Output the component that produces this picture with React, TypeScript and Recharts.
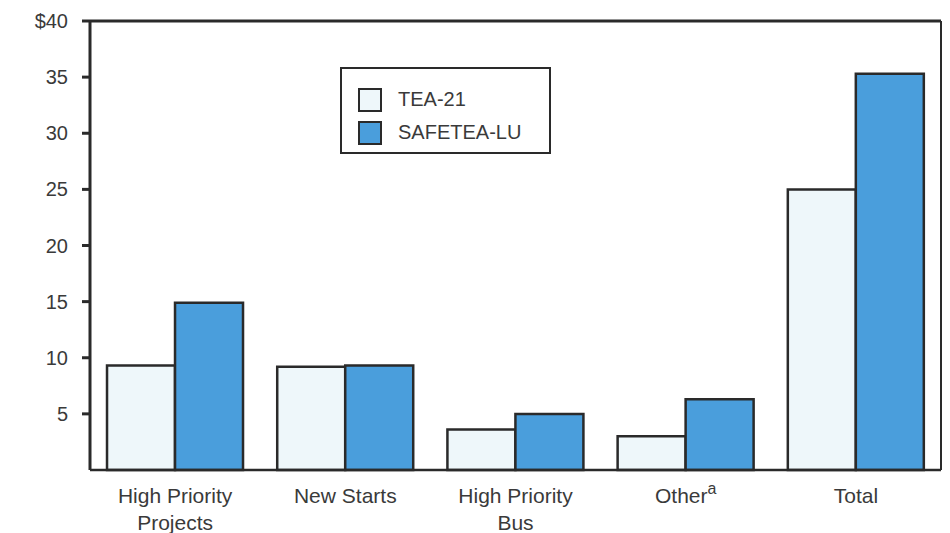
import React from "react";
import { BarChart, Bar, XAxis, YAxis, ReferenceLine } from "recharts";

const categories = ["High Priority\nProjects", "New Starts", "High Priority\nBus", "Other", "Total"];
const footnotes = ["", "", "", "a", ""];
const tea21 = [9.3, 9.2, 3.6, 3.0, 25.0];
const safetea = [14.9, 9.3, 5.0, 6.3, 35.3];
const yTicks = [5, 10, 15, 20, 25, 30, 35, 40];
const seriesNames = ["TEA-21", "SAFETEA-LU"];

const data = categories.map((c, i) => ({
  name: c,
  note: footnotes[i],
  tea: tea21[i],
  safe: safetea[i],
}));

const FONT = "'Liberation Sans', Arial, Helvetica, sans-serif";
const TEXT = "#3a3a3a";
const LINE = "#2a2a2a";
const LIGHT = "#eef7fa";
const BLUE = "#4a9edc";

const XTick = (props: any) => {
  const { x, y, payload, index } = props;
  const lines = String(payload.value).split("\n");
  const note = footnotes[index] || "";
  return (
    <g transform={`translate(${x},${y})`}>
      <text textAnchor="middle" fill={TEXT} fontFamily={FONT} fontSize={21}>
        {lines.map((l, i) => (
          <tspan key={i} x={0} y={i * 27 + 25}>
            {l}
            {note && i === lines.length - 1 ? (
              <tspan fontSize={16} dy={-9}>{note}</tspan>
            ) : null}
          </tspan>
        ))}
      </text>
    </g>
  );
};

const YTick = (props: any) => {
  const { x, y, payload } = props;
  const label = payload.value === 40 ? "$40" : String(payload.value);
  return (
    <text x={x - 12} y={y + 7} textAnchor="end" fill={TEXT} fontFamily={FONT} fontSize={20}>
      {label}
    </text>
  );
};

const LegendBox = () => (
  <div
    style={{
      position: "absolute",
      left: 340,
      top: 67,
      width: 211,
      height: 87,
      border: `2.5px solid ${LINE}`,
      background: "#fff",
      boxSizing: "border-box",
      padding: "14px 0 0 16px",
      fontFamily: FONT,
      fontSize: 20,
      color: TEXT,
    }}
  >
    {seriesNames.map((n, i) => (
      <div key={n} style={{ display: "flex", alignItems: "center", height: 33 }}>
        <div
          style={{
            width: 24,
            height: 24,
            boxSizing: "border-box",
            border: `2.5px solid ${LINE}`,
            background: i === 0 ? LIGHT : BLUE,
            marginRight: 16,
          }}
        />
        <span>{n}</span>
      </div>
    ))}
  </div>
);

export default function App() {
  return (
    <div style={{ position: "absolute", left: 0, top: 0, width: 950, height: 533, background: "#fff" }}>
      <BarChart
        width={950}
        height={533}
        data={data}
        margin={{ top: 21, right: 0, left: 0, bottom: 0 }}
        barCategoryGap="10%"
        barGap={0}
      >
        <XAxis
          dataKey="name"
          height={63}
          interval={0}
          tick={<XTick />}
          tickLine={false}
          axisLine={{ stroke: LINE, strokeWidth: 2.5 }}
        />
        <YAxis
          width={90}
          domain={[0, 40]}
          ticks={yTicks}
          tick={<YTick />}
          tickSize={8}
          tickLine={{ stroke: LINE, strokeWidth: 3 }}
          axisLine={{ stroke: LINE, strokeWidth: 3 }}
        />
        <YAxis
          yAxisId="right"
          orientation="right"
          width={9}
          domain={[0, 40]}
          tick={false}
          tickLine={false}
          axisLine={{ stroke: LINE, strokeWidth: 2 }}
        />
        <ReferenceLine y={40} stroke={LINE} strokeWidth={3} />
        <Bar dataKey="tea" name={seriesNames[0]} fill={LIGHT} stroke={LINE} strokeWidth={2.5} isAnimationActive={false} />
        <Bar dataKey="safe" name={seriesNames[1]} fill={BLUE} stroke={LINE} strokeWidth={2.5} isAnimationActive={false} />
      </BarChart>
      <LegendBox />
    </div>
  );
}
